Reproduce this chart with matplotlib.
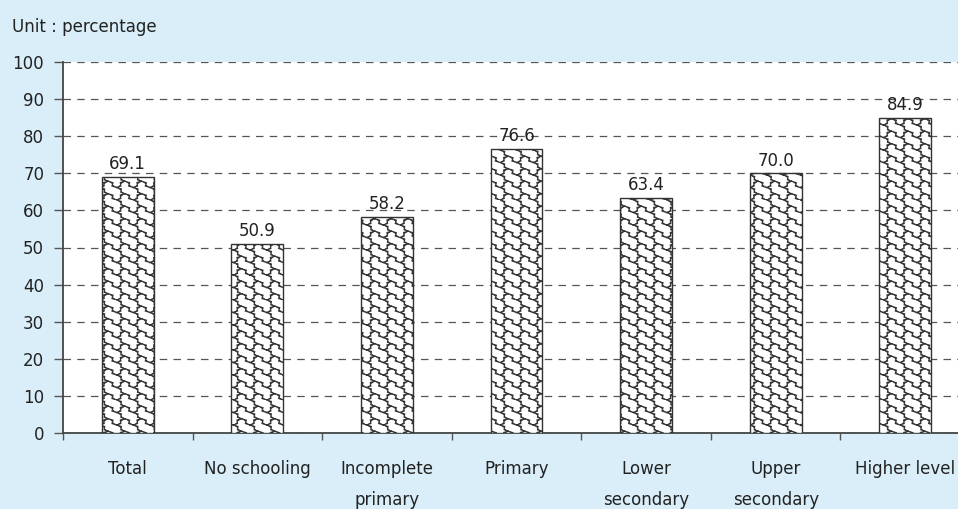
import numpy as np
import matplotlib
matplotlib.use('Agg')
import matplotlib.pyplot as plt
from matplotlib import hatch as mhatch
from matplotlib.path import Path

categories = ['Total', 'No schooling', 'Incomplete\nprimary', 'Primary',
              'Lower\nsecondary', 'Upper\nsecondary', 'Higher level']
values = [69.1, 50.9, 58.2, 76.6, 63.4, 70.0, 84.9]
yticks = list(range(0, 101, 10))


class CobbleHatch(mhatch.HatchPatternBase):
    """wavy cobble pattern, switched on by 'w' in the hatch string"""
    cols, rows = 6, 8
    # one cell: wavy line from top-left to bottom-right, and a wavy link
    # from its middle down to the bottom-left corner (next diagonal)
    main = [(0.0, 1.0), (0.28, 0.88), (0.25, 0.62), (0.5, 0.5),
            (0.78, 0.38), (0.72, 0.12), (1.0, 0.0)]
    hook = [(0.5, 0.5), (0.22, 0.4), (0.25, 0.12), (0.0, 0.0)]

    def __init__(self, hatch, density):
        self.on = 'w' in hatch
        n = self.cols * self.rows
        self.num_vertices = n * (len(self.main) + len(self.hook)) if self.on else 0

    def set_vertices_and_codes(self, vertices, codes):
        k = 0
        for i in range(self.cols):
            for j in range(self.rows):
                for seg in (self.main, self.hook):
                    for m, (px, py) in enumerate(seg):
                        vertices[k] = ((i + px) / self.cols, (j + py) / self.rows)
                        codes[k] = Path.MOVETO if m == 0 else Path.LINETO
                        k += 1


mhatch._hatch_types.append(CobbleHatch)

plt.rcParams['font.family'] = ['DejaVu Sans']
plt.rcParams['hatch.linewidth'] = 0.9
plt.rcParams['hatch.color'] = '#333333'

fs = 12
bg = '#d9eef8'
fig = plt.figure(figsize=(9.58, 5.09), dpi=100, facecolor=bg)
ax = fig.add_axes([63 / 958, 1 - 433 / 509, 907 / 958, 371 / 509])
ax.set_facecolor('white')

x = np.arange(len(values))
ax.bar(x, values, width=0.4, color='white', edgecolor='#333333',
       linewidth=1.0, hatch='w', zorder=3)
for xi, v in zip(x, values):
    ax.text(xi, v + 1.0, '{:.1f}'.format(v), ha='center', va='bottom',
            fontsize=fs, color='#222222')

ax.set_xlim(-0.5, len(values) - 0.5)
ax.set_ylim(0, 100)
ax.set_yticks(yticks)
ax.tick_params(axis='y', labelsize=fs, colors='#222222', length=6.5,
               width=1, direction='out', pad=7)
ax.tick_params(axis='y', color='#555555')
ax.yaxis.grid(True, linestyle=(0, (6, 5)), color='#555555', linewidth=0.9,
              zorder=0)

# ticks on the category boundaries, labels under the bars
ax.set_xticks(np.arange(len(values) + 1) - 0.5)
ax.set_xticklabels([])
ax.tick_params(axis='x', length=5, width=1, color='#555555', direction='out')
for xi, lab in zip(x, categories):
    ax.text(xi, -7.4, lab, ha='center', va='top', fontsize=fs,
            color='#222222', linespacing=1.9, clip_on=False)

for s in ['top', 'right']:
    ax.spines[s].set_visible(False)
for s in ['left', 'bottom']:
    ax.spines[s].set_color('#444444')
    ax.spines[s].set_linewidth(1.3)

fig.text(12 / 958, 1 - 27 / 509, 'Unit : percentage', fontsize=fs,
         color='#222222', va='center', ha='left')

fig.savefig('out.png', dpi=100, facecolor=bg)
